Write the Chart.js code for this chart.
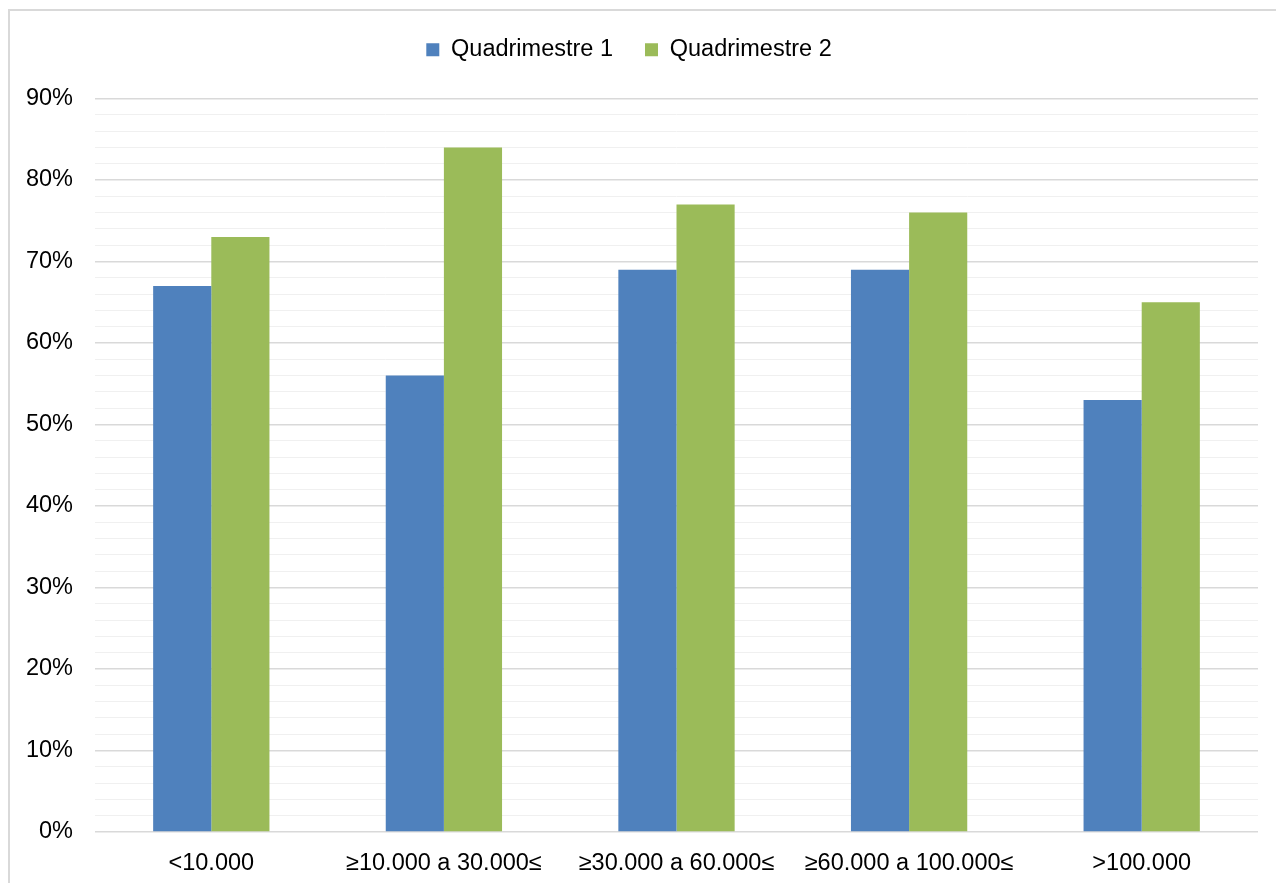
<!DOCTYPE html>
<html>
<head>
<meta charset="utf-8">
<script src="https://cdn.jsdelivr.net/npm/chart.js@4/dist/chart.umd.min.js"></script>
<style>
    html, body { margin: 0; padding: 0; background: #fff; }
    #wrap { position: relative; width: 1276px; height: 883px; overflow: hidden; }
    #frame { position: absolute; left: 8px; top: 9px; width: 1300px; height: 900px; border: 2px solid #d9d9d9; box-sizing: border-box; }
    #box { position: absolute; left: 0; top: 0; width: 1276px; height: 883px; }
</style>
</head>
<body>
<div id="wrap">
    <div id="frame"></div>
    <div id="box"><canvas id="chart"></canvas></div>
</div>
<script>
var categories = ['<10.000', '\u226510.000 a 30.000\u2264', '\u226530.000 a 60.000\u2264', '\u226560.000 a 100.000\u2264', '>100.000'];
var quad1 = [67, 56, 69, 69, 53];
var quad2 = [73, 84, 77, 76, 65];
var seriesNames = ['Quadrimestre 1', 'Quadrimestre 2'];
var yMax = 90;
var yStep = 2;
var labelStep = 10;

var fontFamily = '"Liberation Sans", Arial, sans-serif';
var fontSize = 23.5;

// extra room under the legend, like the original
var legendSpace = {
    id: 'legendSpace',
    beforeInit: function (chart) {
        var fit = chart.legend.fit;
        chart.legend.fit = function () {
            fit.bind(chart.legend)();
            this.height += 27;
        };
    }
};

var chart = new Chart(document.getElementById('chart').getContext('2d'), {
    type: 'bar',
    data: {
        labels: categories,
        datasets: [
            {
                label: seriesNames[0],
                data: quad1,
                backgroundColor: '#4f81bd',
                categoryPercentage: 0.5,
                barPercentage: 1.0
            },
            {
                label: seriesNames[1],
                data: quad2,
                backgroundColor: '#9bbb59',
                categoryPercentage: 0.5,
                barPercentage: 1.0
            }
        ]
    },
    plugins: [legendSpace],
    options: {
        responsive: true,
        maintainAspectRatio: false,
        animation: false,
        layout: {
            padding: { left: 0, right: 18, top: 6, bottom: 0 }
        },
        plugins: {
            tooltip: { enabled: false },
            legend: {
                position: 'top',
                labels: {
                    boxWidth: 13,
                    boxHeight: 13,
                    padding: 32,
                    color: '#000',
                    font: { family: fontFamily, size: fontSize }
                }
            }
        },
        scales: {
            x: {
                grid: { display: false },
                border: { display: false },
                afterFit: function (scale) {
                    scale.height = 51;
                },
                ticks: {
                    color: '#000',
                    padding: 9,
                    maxRotation: 0,
                    autoSkip: false,
                    font: { family: fontFamily, size: fontSize }
                }
            },
            y: {
                min: 0,
                max: yMax,
                border: { display: false },
                afterFit: function (scale) {
                    scale.width = 95;
                },
                grid: {
                    drawTicks: false,
                    color: function (ctx) {
                        return ctx.tick && ctx.tick.value % labelStep === 0 ? '#d9d9d9' : '#f0f0f0';
                    },
                    lineWidth: function (ctx) {
                        return ctx.tick && ctx.tick.value % labelStep === 0 ? 1.5 : 1;
                    }
                },
                ticks: {
                    stepSize: yStep,
                    autoSkip: false,
                    padding: 22,
                    color: '#000',
                    font: { family: fontFamily, size: fontSize },
                    callback: function (value) {
                        return value % labelStep === 0 ? value + '%' : '';
                    }
                }
            }
        }
    }
});
</script>
</body>
</html>
